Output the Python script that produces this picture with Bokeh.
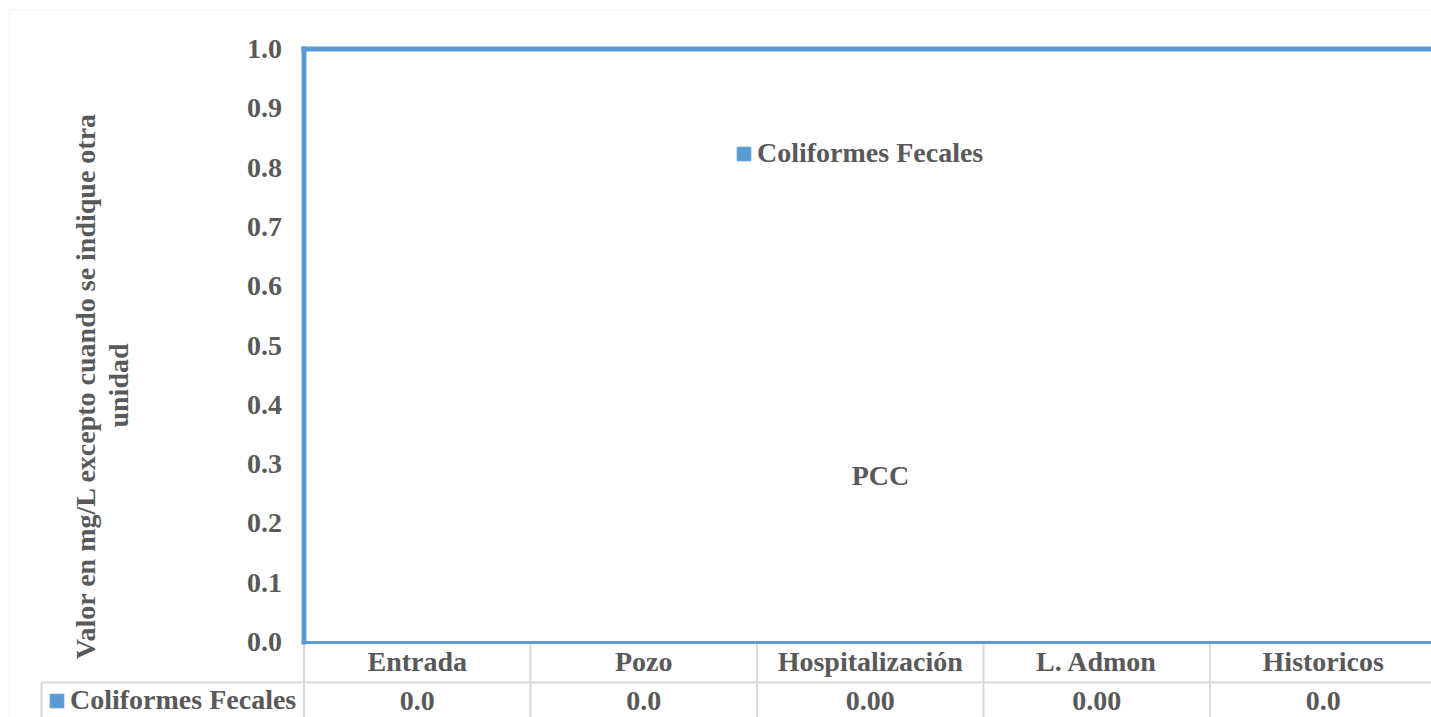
from bokeh.plotting import figure
from bokeh.models import (Range1d, LinearAxis, FixedTicker, NumeralTickFormatter, Label,
                          Legend, LegendItem, PolyAnnotation, ColumnDataSource)
from bokeh.embed import file_html
from bokeh.resources import INLINE

# ---------------- data ----------------
categories = ["Entrada", "Pozo", "Hospitalización", "L. Admon", "Historicos"]
series_name = "Coliformes Fecales"
values = [0.0, 0.0, 0.0, 0.0, 0.0]
value_labels = ["0.0", "0.0", "0.00", "0.00", "0.0"]
y_ticks = [0.0, 0.1, 0.2, 0.3, 0.4, 0.5, 0.6, 0.7, 0.8, 0.9, 1.0]
y_title_lines = ["Valor en mg/L excepto cuando se indique otra", "unidad"]
annotation_text = "PCC"

# ---------------- style / geometry (pixels) ----------------
FONT = "Liberation Serif"
TEXT = "#595959"
BLUE = "#5b9bd5"
GREY = "#d9d9d9"
FS = "28px"
W, H = 1431, 717
PLOT_LEFT, PLOT_TOP, PLOT_BOTTOM = 303.5, 48.5, 641.5
COL_W = 226.5
ROW_DIV = 682
TABLE_LEFT = 41

n = len(categories)
centers = [i + 0.5 for i in range(n)]
edges = list(range(n + 1))

y_span = max(y_ticks) - min(y_ticks)
y_per = (PLOT_BOTTOM - PLOT_TOP) / y_span
x_start = -PLOT_LEFT / COL_W
x_end = (W - PLOT_LEFT) / COL_W
y_end = max(y_ticks) + PLOT_TOP / y_per
y_start = -(H - PLOT_BOTTOM) / y_per
y_div = -(ROW_DIV - PLOT_BOTTOM) / y_per
x_table = -(PLOT_LEFT - TABLE_LEFT) / COL_W

p = figure(width=W, height=H,
           x_range=Range1d(x_start, x_end), y_range=Range1d(y_start, y_end),
           output_backend="svg", toolbar_location=None,
           x_axis_location=None, y_axis_location=None,
           min_border=0, min_border_left=0, min_border_right=0,
           min_border_top=0, min_border_bottom=0)
p.outline_line_color = None
p.xgrid.visible = False
p.ygrid.visible = False
p.background_fill_color = "white"
p.border_fill_color = "white"

source = ColumnDataSource(dict(x=centers, cat=categories, val=values))
bars = p.vbar(x="x", top="val", width=0.6, source=source, color=BLUE)

# data-table column separators and table left edge
p.segment(x0=edges, y0=[0] * len(edges), x1=edges, y1=[y_start] * len(edges),
          line_color=GREY, line_width=2)
p.segment(x0=[x_table], y0=[y_div], x1=[x_table], y1=[y_start],
          line_color=GREY, line_width=2)

# plot-area border (top and left)
p.segment(x0=[0, 0], y0=[max(y_ticks), 0], x1=[n, 0], y1=[max(y_ticks), max(y_ticks)],
          line_color=BLUE, line_width=5, line_cap="square")


def style_labels(ax):
    ax.major_label_text_font = FONT
    ax.major_label_text_font_style = "bold"
    ax.major_label_text_font_size = FS
    ax.major_label_text_color = TEXT
    ax.major_tick_in = 0
    ax.major_tick_out = 0
    ax.major_tick_line_color = None
    ax.minor_tick_line_color = None


# y axis
yaxis = LinearAxis(ticker=FixedTicker(ticks=y_ticks),
                   formatter=NumeralTickFormatter(format="0.0"),
                   fixed_location=0, bounds=(min(y_ticks), max(y_ticks)))
style_labels(yaxis)
yaxis.axis_line_color = None
yaxis.major_label_standoff = 22
p.add_layout(yaxis, "left")

# data-table header row (categories)
ax_cat = LinearAxis(ticker=FixedTicker(ticks=centers),
                    major_label_overrides=dict(zip(centers, categories)),
                    fixed_location=0, bounds=(0, n))
style_labels(ax_cat)
ax_cat.axis_line_color = BLUE
ax_cat.axis_line_width = 3
ax_cat.major_label_standoff = 4
p.add_layout(ax_cat, "below")

# data-table value row
ax_val = LinearAxis(ticker=FixedTicker(ticks=centers),
                    major_label_overrides=dict(zip(centers, value_labels)),
                    fixed_location=y_div, bounds=(x_table, n))
style_labels(ax_val)
ax_val.axis_line_color = GREY
ax_val.axis_line_width = 2
ax_val.major_label_standoff = 9
p.add_layout(ax_val, "below")

legend_style = dict(orientation="horizontal", glyph_width=17, glyph_height=17,
                    label_standoff=5, label_text_font=FONT, label_text_font_style="bold",
                    label_text_font_size=FS, label_text_color=TEXT,
                    border_line_color=None, background_fill_alpha=0,
                    padding=0, margin=0, spacing=0)

# chart legend
p.add_layout(Legend(items=[LegendItem(label=series_name, renderers=[bars])],
                    location=(735, 548), **legend_style))
# data-table legend key
p.add_layout(Legend(items=[LegendItem(label=series_name, renderers=[bars])],
                    location=(48, 1), **legend_style))

# PCC text
p.add_layout(Label(x=880, y=H - 475, x_units="screen", y_units="screen",
                   text=annotation_text, text_align="center", text_baseline="middle",
                   text_font=FONT, text_font_style="bold", text_font_size=FS,
                   text_color=TEXT))

# y title (two rotated lines)
for xo, line in zip([85, 118], y_title_lines):
    p.add_layout(Label(x=xo, y=H - 385, x_units="screen", y_units="screen",
                       text=line, angle=1.5707963, text_align="center",
                       text_baseline="middle", text_font=FONT, text_font_style="bold",
                       text_font_size=FS, text_color=TEXT))

# outer chart border (top and left visible)
p.add_layout(PolyAnnotation(xs=[9, 9, W + 50, W + 50], ys=[-50, H - 9, H - 9, -50],
                            xs_units="screen", ys_units="screen",
                            line_color=GREY, line_width=1.5, fill_alpha=0))

open("out.html", "w").write(file_html(p, INLINE))
